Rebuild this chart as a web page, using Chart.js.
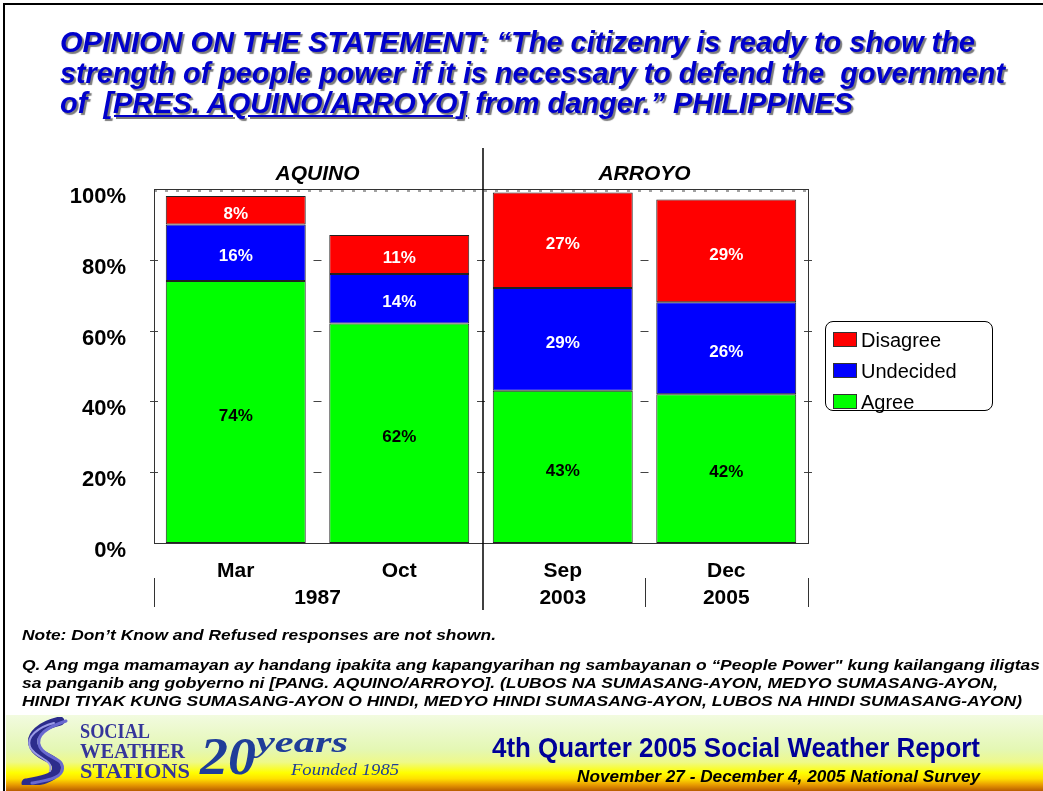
<!DOCTYPE html>
<html>
<head>
<meta charset="utf-8">
<script src="https://cdn.jsdelivr.net/npm/chart.js@4.4.1/dist/chart.umd.min.js"></script>
<style>
  html,body{margin:0;padding:0;background:#fff;}
  body{width:1043px;height:791px;overflow:hidden;position:relative;font-family:"Liberation Sans",Arial,sans-serif;}
  #frame{position:absolute;left:3px;top:3px;width:1045px;height:800px;border:2px solid #000;box-sizing:border-box;}
  canvas{position:absolute;left:0;top:0;}
  .t{position:absolute;white-space:nowrap;transform-origin:0 50%;display:inline-block;}
  .title{font-weight:bold;font-style:italic;font-size:29px;line-height:32px;color:#0000CC;text-shadow:2px 2px 1px #7a7a7a;}
  .note{font-weight:bold;font-style:italic;font-size:15px;line-height:18px;color:#000;}
  #footer{position:absolute;left:6px;top:715px;width:1037px;height:76px;
    background:linear-gradient(to bottom,#f2fbe0 0%,#e4f7b4 45%,#eef98a 62%,#ffff00 76%,#ffe000 84%,#e89a00 92%,#b85c00 100%);}
  .logo{font-family:"Liberation Serif","DejaVu Serif",serif;font-weight:bold;color:#35359a;font-size:22px;line-height:20px;}
  #legend{position:absolute;left:825px;top:321px;width:168px;height:90px;border:1px solid #000;border-radius:8px;box-sizing:border-box;background:#fff;}
  .li{position:absolute;left:7px;height:26px;font-size:20px;line-height:26px;color:#000;}
  .sw{display:inline-block;width:22px;height:13px;border:1px solid #333;vertical-align:middle;margin-right:4px;position:relative;top:-2px;}
</style>
</head>
<body>
<div id="frame"></div>

<div class="t title" style="left:60px;top:26px;" data-w="915">OPINION ON THE STATEMENT: “The citizenry is ready to show the</div>
<div class="t title" style="left:60px;top:57px;" data-w="945">strength of people power if it is necessary to defend the&nbsp; government</div>
<div class="t title" style="left:60px;top:87px;" data-w="793">of&nbsp; <u>[PRES. AQUINO/ARROYO]</u> from danger.” PHILIPPINES</div>

<canvas id="c" width="1043" height="791"></canvas>

<div id="legend"></div>

<div class="t note" style="left:22px;top:626px;" data-w="474">Note: Don’t Know and Refused responses are not shown.</div>
<div class="t note" style="left:22px;top:656px;" data-w="1018">Q. Ang mga mamamayan ay handang ipakita ang kapangyarihan ng sambayanan o “People Power" kung kailangang iligtas</div>
<div class="t note" style="left:22px;top:674px;" data-w="976">sa panganib ang gobyerno ni [PANG. AQUINO/ARROYO]. (LUBOS NA SUMASANG-AYON, MEDYO SUMASANG-AYON,</div>
<div class="t note" style="left:22px;top:692px;" data-w="1000">HINDI TIYAK KUNG SUMASANG-AYON O HINDI, MEDYO HINDI SUMASANG-AYON, LUBOS NA HINDI SUMASANG-AYON)</div>

<div id="footer">
  <svg style="position:absolute;left:14px;top:2px;" width="52" height="68" viewBox="0 0 52 68">
    <g fill="none" stroke-linecap="round">
      <path d="M40 4 C22 8 8 18 14 30 C20 42 40 40 36 54 C33 62 18 64 6 66" stroke="#2c2c8c" stroke-width="9"/>
      <path d="M46 4 C28 10 14 18 20 30 C26 42 46 40 42 54 C39 62 24 64 12 66" stroke="#6a6ad0" stroke-width="3"/>
      <path d="M34 6 C18 10 6 20 10 30 C16 42 34 42 30 54" stroke="#9a9ae6" stroke-width="2"/>
    </g>
  </svg>
  <div class="t logo" style="left:74px;top:6px;" data-w="70">SOCIAL</div>
  <div class="t logo" style="left:74px;top:26px;" data-w="105">WEATHER</div>
  <div class="t logo" style="left:74px;top:46px;" data-w="110">STATIONS</div>
  <div class="t" style="left:194px;top:16px;font-family:'Liberation Serif',serif;font-style:italic;font-weight:bold;font-size:52px;line-height:52px;color:#1f3d99;" data-w="56">20</div>
  <div class="t" style="left:250px;top:12px;font-family:'Liberation Serif',serif;font-style:italic;font-weight:bold;font-size:30px;line-height:30px;color:#1f3d99;" data-w="92">years</div>
  <div class="t" style="left:285px;top:46px;font-family:'Liberation Serif',serif;font-style:italic;font-size:17px;line-height:18px;color:#1f3d99;" data-w="108">Founded 1985</div>
  <div class="t" style="left:486px;top:17px;font-weight:bold;font-size:27px;line-height:32px;color:#000099;" data-w="488">4th Quarter 2005 Social Weather Report</div>
  <div class="t" style="left:571px;top:53px;font-weight:bold;font-style:italic;font-size:16px;line-height:18px;color:#000;" data-w="403">November 27 - December 4, 2005 National Survey</div>
</div>

<script>
// ---- data ----
const categories = ['Mar', 'Oct', 'Sep', 'Dec'];
const years = ['1987', '2003', '2005'];
const yearSpans = [[0, 1], [2, 2], [3, 3]];
const groups = ['AQUINO', 'ARROYO'];
const groupSpans = [[0, 1], [2, 3]];
const seriesNames = ['Agree', 'Undecided', 'Disagree'];
const agree = [74, 62, 43, 42];
const undecided = [16, 14, 29, 26];
const disagree = [8, 11, 27, 29];
const yTicks = [0, 20, 40, 60, 80, 100];

const colors = ['#00FF00', '#0000FF', '#FF0000'];
const labelColors = ['#000', '#fff', '#fff'];
const seriesValues = [agree, undecided, disagree];

// fit text widths
document.querySelectorAll('[data-w]').forEach(el => {
  const w = el.getBoundingClientRect().width;
  el.style.transform = 'scaleX(' + (parseFloat(el.dataset.w) / w) + ')';
});

// legend (reverse order, top = Disagree)
const lg = document.getElementById('legend');
[2, 1, 0].forEach((si, k) => {
  const d = document.createElement('div');
  d.className = 'li';
  d.style.top = (5 + k * 31) + 'px';
  d.innerHTML = '<span class="sw" style="background:' + colors[si] + '"></span>' + seriesNames[si];
  lg.appendChild(d);
});

function boundary(x, a, i) {
  const n = categories.length;
  if (i <= 0) return a.left;
  if (i >= n) return a.right;
  return (x.getPixelForValue(i - 1) + x.getPixelForValue(i)) / 2;
}

const decor = {
  id: 'decor',
  beforeDatasetsDraw(chart) {
    const { ctx, chartArea: a, scales: { x, y } } = chart;
    ctx.save();
    ctx.strokeStyle = '#444';
    ctx.lineWidth = 1;
    yTicks.forEach(v => {
      if (v === 0 || v === 100) return;
      const yy = Math.round(y.getPixelForValue(v)) + 0.5;
      for (let i = 0; i <= categories.length; i++) {
        const b = boundary(x, a, i);
        ctx.beginPath();
        ctx.moveTo(b - 4, yy);
        ctx.lineTo(b + 4, yy);
        ctx.stroke();
      }
    });
    // dashed line just under top border
    ctx.setLineDash([3, 8]);
    ctx.beginPath();
    ctx.moveTo(a.left, a.top + 2);
    ctx.lineTo(a.right, a.top + 2);
    ctx.stroke();
    ctx.restore();
  },
  afterDatasetsDraw(chart) {
    const { ctx, chartArea: a, scales: { x, y } } = chart;
    ctx.save();
    // value labels
    ctx.font = 'bold 17px "Liberation Sans", Arial, sans-serif';
    ctx.textAlign = 'center';
    ctx.textBaseline = 'middle';
    chart.data.datasets.forEach((ds, di) => {
      const meta = chart.getDatasetMeta(di);
      meta.data.forEach((el, i) => {
        ctx.fillStyle = labelColors[di];
        ctx.fillText(ds.data[i] + '%', el.x, (el.y + el.base) / 2 + 4);
      });
    });
    // plot box
    ctx.strokeStyle = '#333';
    ctx.lineWidth = 1;
    ctx.strokeRect(Math.round(a.left) + 0.5, Math.round(a.top) + 0.5, Math.round(a.width), Math.round(a.height));
    // divider between groups
    const mid = boundary(x, a, 2) + 2;
    ctx.strokeStyle = '#000';
    ctx.lineWidth = 1.5;
    ctx.beginPath();
    ctx.moveTo(mid, a.top - 41);
    ctx.lineTo(mid, a.bottom + 67);
    ctx.stroke();
    // bottom separators
    ctx.strokeStyle = '#333';
    ctx.lineWidth = 1;
    [0, 3, 4].forEach(i => {
      const b = Math.round(boundary(x, a, i)) + 0.5;
      ctx.beginPath();
      ctx.moveTo(b, a.bottom + 35);
      ctx.lineTo(b, a.bottom + 64);
      ctx.stroke();
    });
    // year labels
    ctx.fillStyle = '#000';
    ctx.font = 'bold 21px "Liberation Sans", Arial, sans-serif';
    years.forEach((yr, k) => {
      const [s, e] = yearSpans[k];
      const cx = (x.getPixelForValue(s) + x.getPixelForValue(e)) / 2;
      ctx.fillText(yr, cx, a.bottom + 55);
    });
    // group headers
    ctx.font = 'bold italic 21px "Liberation Sans", Arial, sans-serif';
    groups.forEach((g, k) => {
      const [s, e] = groupSpans[k];
      const cx = (x.getPixelForValue(s) + x.getPixelForValue(e)) / 2;
      ctx.fillText(g, cx, a.top - 15);
    });
    ctx.restore();
  }
};

new Chart(document.getElementById('c'), {
  type: 'bar',
  data: {
    labels: categories,
    datasets: seriesValues.map((vals, i) => ({
      label: seriesNames[i],
      data: vals,
      backgroundColor: colors[i],
      borderColor: '#222',
      borderWidth: 1,
      borderSkipped: false,
      barPercentage: 0.856,
      categoryPercentage: 1.0
    }))
  },
  options: {
    responsive: false,
    animation: false,
    layout: { padding: { left: 20, top: 189, right: 235, bottom: 178 } },
    plugins: { legend: { display: false }, tooltip: { enabled: false } },
    scales: {
      x: {
        stacked: true,
        grid: { display: false, drawTicks: false },
        border: { display: false },
        ticks: { color: '#000', font: { family: '"Liberation Sans", Arial, sans-serif', size: 21, weight: 'bold' }, padding: 16, maxRotation: 0 },
        afterFit(s) { s.height = 70; }
      },
      y: {
        stacked: true,
        min: 0, max: 100,
        grid: { display: false, drawTicks: false },
        border: { display: false },
        afterBuildTicks(s) { s.ticks = yTicks.map(v => ({ value: v })); },
        ticks: {
          color: '#000',
          font: { family: '"Liberation Sans", Arial, sans-serif', size: 22, weight: 'bold' },
          padding: 28,
          labelOffset: 8,
          callback: v => v + '%'
        },
        afterFit(s) { s.width = 134; }
      }
    }
  },
  plugins: [decor]
});
</script>
</body>
</html>
